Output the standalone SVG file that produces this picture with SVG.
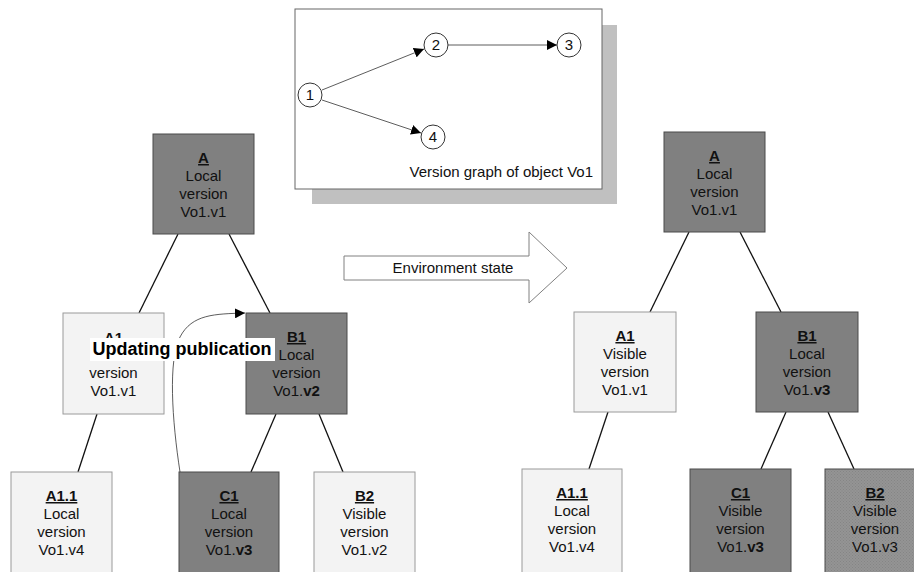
<svg xmlns="http://www.w3.org/2000/svg" width="914" height="572" viewBox="0 0 914 572">
<style>
text{font-family:"Liberation Sans",Arial,sans-serif;font-size:15px;fill:#111;text-anchor:middle}
.dark{fill:#808080;stroke:#4a4a4a;stroke-width:1}
.light{fill:#f3f3f3;stroke:#9a9a9a;stroke-width:1}
.hatch{fill:url(#hp);stroke:#4a4a4a;stroke-width:1}
.h{font-weight:bold;text-decoration:underline}
.b{font-weight:bold}
.tree{stroke:#111;stroke-width:1.3;fill:none}
.thin{stroke:#333;stroke-width:0.8;fill:none}
.circ{fill:#fff;stroke:#333;stroke-width:1}
</style>
<defs>
<marker id="ah" viewBox="0 0 10 10" refX="10" refY="5" markerWidth="10" markerHeight="10" markerUnits="userSpaceOnUse" orient="auto">
<path d="M0,0 L10,5 L0,10 z" fill="#000"/>
</marker>
<pattern id="hp" width="3" height="3" patternUnits="userSpaceOnUse">
<rect width="3" height="3" fill="#949494"/>
<rect width="1" height="1" fill="#858585"/>
<rect x="1.5" y="1.5" width="1" height="1" fill="#858585"/>
</pattern>
</defs>
<rect width="914" height="572" fill="#fff"/>

<g id="inset">
<rect x="312" y="25" width="305" height="179" fill="#c0c0c0"/>
<rect x="295" y="9" width="307" height="180" fill="#fff" stroke="#666" stroke-width="1"/>
<g class="thin">
<line x1="322" y1="90" x2="424" y2="49" marker-end="url(#ah)"/>
<line x1="448" y1="45" x2="557" y2="45" marker-end="url(#ah)"/>
<line x1="322" y1="100" x2="421" y2="133" marker-end="url(#ah)"/>
</g>
<g id="v1"><circle class="circ" cx="310" cy="95" r="12"/><text x="310" y="100">1</text></g>
<g id="v2"><circle class="circ" cx="436" cy="45" r="12"/><text x="436" y="50">2</text></g>
<g id="v3"><circle class="circ" cx="569" cy="45" r="12"/><text x="569" y="50">3</text></g>
<g id="v4"><circle class="circ" cx="433" cy="137" r="12"/><text x="433" y="142">4</text></g>
<text x="593" y="177" style="text-anchor:end">Version graph of object Vo1</text>
</g>

<g id="env-arrow">
<path d="M344,256 H529 V232 L567,268 L529,303 V280 H344 Z" fill="#fff" stroke="#808080" stroke-width="1"/>
<text x="453" y="273">Environment state</text>
</g>

<g id="connectors">
<line class="tree" x1="178" y1="234" x2="139" y2="313"/>
<line class="tree" x1="229" y1="234" x2="270" y2="313"/>
<line class="tree" x1="97" y1="414" x2="78" y2="472"/>
<line class="tree" x1="276" y1="414" x2="251" y2="472"/>
<line class="tree" x1="319" y1="414" x2="343" y2="472"/>
<line class="tree" x1="689" y1="232" x2="650" y2="312"/>
<line class="tree" x1="740" y1="232" x2="781" y2="312"/>
<line class="tree" x1="608" y1="412" x2="589" y2="469"/>
<line class="tree" x1="786" y1="412" x2="761" y2="469"/>
<line class="tree" x1="828" y1="412" x2="854" y2="469"/>
</g>

<g id="L-A"><rect class="dark" x="153" y="134" width="101" height="100"/>
<text x="203.5" y="163" class="h">A</text><text x="203.5" y="181">Local</text><text x="203.5" y="199">version</text><text x="203.5" y="217">Vo1.v1</text></g>
<g id="L-A1"><rect class="light" x="63" y="313" width="101" height="101"/>
<text x="113.5" y="343" class="h">A1</text><text x="113.5" y="378">version</text><text x="113.5" y="396">Vo1.v1</text></g>
<g id="L-B1"><rect class="dark" x="246" y="313" width="101" height="101"/>
<text x="296.5" y="342" class="h">B1</text><text x="296.5" y="360">Local</text><text x="296.5" y="378">version</text><text x="296.5" y="396">Vo1.<tspan class="b">v2</tspan></text></g>
<g id="L-A11"><rect class="light" x="11" y="472" width="101" height="102"/>
<text x="61.5" y="501" class="h">A1.1</text><text x="61.5" y="519">Local</text><text x="61.5" y="537">version</text><text x="61.5" y="555">Vo1.v4</text></g>
<g id="L-C1"><rect class="dark" x="179" y="472" width="100" height="102"/>
<text x="229" y="501" class="h">C1</text><text x="229" y="519">Local</text><text x="229" y="537">version</text><text x="229" y="555">Vo1.<tspan class="b">v3</tspan></text></g>
<g id="L-B2"><rect class="light" x="314" y="472" width="101" height="102"/>
<text x="364.5" y="501" class="h">B2</text><text x="364.5" y="519">Visible</text><text x="364.5" y="537">version</text><text x="364.5" y="555">Vo1.v2</text></g>

<g id="R-A"><rect class="dark" x="664" y="132" width="101" height="100"/>
<text x="714.5" y="161" class="h">A</text><text x="714.5" y="179">Local</text><text x="714.5" y="197">version</text><text x="714.5" y="215">Vo1.v1</text></g>
<g id="R-A1"><rect class="light" x="574" y="312" width="102" height="100"/>
<text x="625" y="341" class="h">A1</text><text x="625" y="359">Visible</text><text x="625" y="377">version</text><text x="625" y="395">Vo1.v1</text></g>
<g id="R-B1"><rect class="dark" x="756" y="312" width="102" height="100"/>
<text x="807" y="341" class="h">B1</text><text x="807" y="359">Local</text><text x="807" y="377">version</text><text x="807" y="395">Vo1.<tspan class="b">v3</tspan></text></g>
<g id="R-A11"><rect class="light" x="522" y="469" width="100" height="105"/>
<text x="572" y="498" class="h">A1.1</text><text x="572" y="516">Local</text><text x="572" y="534">version</text><text x="572" y="552">Vo1.v4</text></g>
<g id="R-C1"><rect class="dark" x="690" y="469" width="101" height="105"/>
<text x="740.5" y="498" class="h">C1</text><text x="740.5" y="516">Visible</text><text x="740.5" y="534">version</text><text x="740.5" y="552">Vo1.<tspan class="b">v3</tspan></text></g>
<g id="R-B2"><rect class="hatch" x="825" y="469" width="101" height="105"/>
<text x="875" y="498" class="h">B2</text><text x="875" y="516">Visible</text><text x="875" y="534">version</text><text x="875" y="552">Vo1.v3</text></g>

<g id="publication">
<path class="thin" d="M180,472 C172,420 168,360 180,337 S215,314 245,313" marker-end="url(#ah)"/>
<rect x="90" y="338" width="185" height="23" fill="#fff"/>
<text x="182" y="355" style="font-size:18px;font-weight:bold;fill:#000">Updating publication</text>
</g>
</svg>
